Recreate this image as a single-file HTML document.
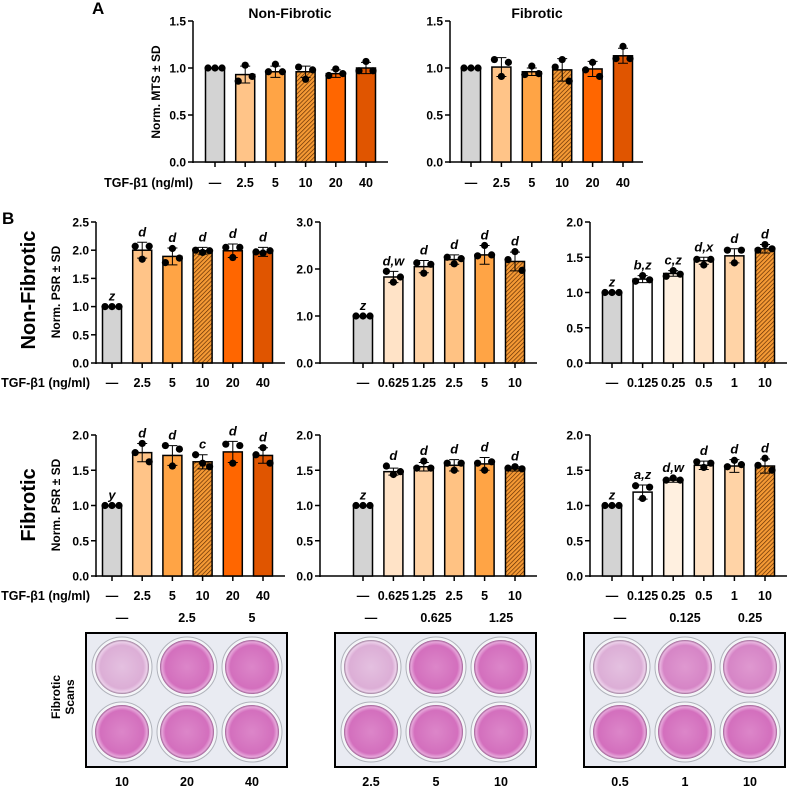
<!DOCTYPE html>
<html><head><meta charset="utf-8"><style>
html,body{margin:0;padding:0;background:#fff;}
svg{display:block;font-family:"Liberation Sans",Arial,sans-serif;font-weight:bold;}
</style></head><body>
<svg id="fig" width="787" height="788" viewBox="0 0 787 788" xmlns="http://www.w3.org/2000/svg">
<defs>
<pattern id="hatch" patternUnits="userSpaceOnUse" width="3" height="3" patternTransform="rotate(45)">
<rect width="3" height="3" fill="#f59a35"/><line x1="0" y1="0" x2="0" y2="3" stroke="#5a2800" stroke-width="1.3"/>
</pattern>
<radialGradient id="wellDark"><stop offset="0" stop-color="#dc86c9"/><stop offset="0.8" stop-color="#d36fbd"/><stop offset="0.93" stop-color="#e6a6da"/><stop offset="1" stop-color="#9a5a90"/></radialGradient>
<radialGradient id="wellLight"><stop offset="0" stop-color="#e4c0e0"/><stop offset="0.8" stop-color="#dcaed6"/><stop offset="0.93" stop-color="#ecd0ea"/><stop offset="1" stop-color="#9a7a98"/></radialGradient>
<radialGradient id="wellMid"><stop offset="0" stop-color="#df98d0"/><stop offset="0.8" stop-color="#d685c6"/><stop offset="0.93" stop-color="#e9b6e0"/><stop offset="1" stop-color="#9a6492"/></radialGradient>
</defs>
<text x="92" y="14" font-size="17">A</text>
<text x="2" y="224" font-size="17">B</text>
<text x="290" y="18" font-size="14" text-anchor="middle">Non-Fibrotic</text>
<text x="537" y="18" font-size="14" text-anchor="middle">Fibrotic</text>
<text transform="translate(160,92) rotate(-90)" font-size="12" text-anchor="middle">Norm. MTS ± SD</text>
<text x="193" y="187" font-size="12.5" text-anchor="end">TGF-β1 (ng/ml)</text>
<text transform="translate(35,290) rotate(-90)" font-size="20" text-anchor="middle">Non-Fibrotic</text>
<text transform="translate(35,505) rotate(-90)" font-size="20" text-anchor="middle">Fibrotic</text>
<text transform="translate(60,292) rotate(-90)" font-size="12" text-anchor="middle">Norm. PSR ± SD</text>
<text transform="translate(60,505) rotate(-90)" font-size="12" text-anchor="middle">Norm. PSR ± SD</text>
<text x="90" y="387" font-size="12.5" text-anchor="end">TGF-β1 (ng/ml)</text>
<text x="90" y="600" font-size="12.5" text-anchor="end">TGF-β1 (ng/ml)</text>
<text transform="translate(62,697) rotate(-90)" font-size="12" text-anchor="middle"><tspan x="0" dy="-2">Fibrotic</tspan><tspan x="0" dy="14">Scans</tspan></text>
<g id="charts"></g>
<g id="plates"></g>
</svg>
<script>
// ---- Chart data ----
const catA = ["—","2.5","5","10","20","40"];
const catMid = ["—","0.625","1.25","2.5","5","10"];
const catRight = ["—","0.125","0.25","0.5","1","10"];

const aNfMeans = [1.0,0.93,0.96,0.96,0.94,1.0];
const aNfSd = [0,0.09,0.06,0.06,0.04,0.06];
const aNfPts = [[1,1,1],[0.86,1.03,0.91],[0.96,1.04,0.96],[1.01,0.88,0.98],[0.92,0.99,0.94],[0.97,1.07,0.97]];

const aFMeans = [1.0,1.01,0.96,0.98,0.99,1.13];
const aFSd = [0,0.1,0.04,0.12,0.08,0.08];
const aFPts = [[1,1,1],[1.09,0.91,1.06],[0.93,1.02,0.94],[1.01,1.09,0.86],[0.98,1.06,0.91],[1.1,1.23,1.1]];

const b1lMeans = [1.0,2.0,1.89,1.99,1.99,1.97];
const b1lSd = [0,0.14,0.15,0.06,0.12,0.08];
const b1lPts = [[1,1,1],[2.07,1.84,2.07],[1.78,2.03,1.86],[2.0,1.96,1.99],[2.05,1.87,2.05],[1.97,1.95,1.99]];
const b1lLetters = ["z","d","d","d","d","d"];

const b1mMeans = [1.0,1.83,2.05,2.2,2.3,2.16];
const b1mSd = [0,0.12,0.13,0.1,0.2,0.2];
const b1mPts = [[1,1,1],[1.95,1.72,1.83],[2.13,1.91,2.1],[2.25,2.11,2.22],[2.28,2.5,2.3],[2.2,2.37,1.97]];
const b1mLetters = ["z","d,w","d","d","d","d"];

const b1rMeans = [1.0,1.19,1.27,1.45,1.52,1.62];
const b1rSd = [0,0.05,0.04,0.05,0.1,0.06];
const b1rPts = [[1,1,1],[1.16,1.24,1.18],[1.23,1.31,1.26],[1.47,1.39,1.47],[1.6,1.42,1.6],[1.6,1.68,1.62]];
const b1rLetters = ["z","b,z","c,z","d,x","d","d"];

const b2lMeans = [1.0,1.75,1.71,1.62,1.76,1.71];
const b2lSd = [0,0.13,0.14,0.1,0.15,0.11];
const b2lPts = [[1,1,1],[1.75,1.88,1.62],[1.85,1.56,1.8],[1.72,1.6,1.55],[1.87,1.6,1.85],[1.72,1.82,1.6]];
const b2lLetters = ["y","d","d","c","d","d"];

const b2mMeans = [1.0,1.48,1.55,1.57,1.59,1.52];
const b2mSd = [0,0.05,0.06,0.08,0.09,0.03];
const b2mPts = [[1,1,1],[1.56,1.44,1.48],[1.53,1.63,1.53],[1.6,1.5,1.6],[1.6,1.5,1.62],[1.53,1.55,1.52]];
const b2mLetters = ["z","d","d","d","d","d"];

const b2rMeans = [1.0,1.19,1.36,1.57,1.56,1.56];
const b2rSd = [0,0.1,0.03,0.06,0.09,0.1];
const b2rPts = [[1,1,1],[1.28,1.1,1.26],[1.36,1.39,1.36],[1.62,1.54,1.6],[1.55,1.64,1.58],[1.57,1.67,1.5]];
const b2rLetters = ["z","a,z","d,w","d","d","d"];

const tick15 = [0,0.5,1.0,1.5];
const tick25 = [0,0.5,1.0,1.5,2.0,2.5];
const tick3 = [0,1.0,2.0,3.0];
const tick2 = [0,0.5,1.0,1.5,2.0];

const colA = ["#d3d3d3","#ffc488","#ffa445","url(#hatch)","#ff6600","#e05500"];
const colMid = ["#d3d3d3","#ffe3c7","#ffd3a6","#ffc283","#ffa445","url(#hatch)"];
const colRight = ["#d3d3d3","#ffffff","#fff0e0","#ffe3c7","#ffd3a6","url(#hatch)"];

const NS="http://www.w3.org/2000/svg";
const g=document.getElementById('charts');
function mk(tag,attrs,parent){const e=document.createElementNS(NS,tag);for(const k in attrs)e.setAttribute(k,attrs[k]);(parent||g).appendChild(e);return e;}

function chart(name,o){
  const grp=mk('g',{});
  
  
  const yScale=v=>o.y0-(v/o.ymax)*(o.y0-o.ytop);
  const xScale=i=>o.x1+i*o.dx;
  const ax=mk('line',{x1:o.ax,y1:o.ytop,x2:o.ax,y2:o.y0+1,stroke:'#000','stroke-width':1.5},grp);
  
  
  const xa=mk('line',{x1:o.ax,y1:o.y0,x2:o.axEnd,y2:o.y0,stroke:'#000','stroke-width':1.5},grp);
  
  
  o.ticks.forEach(t=>{
    const y=yScale(t);
    mk('line',{x1:o.ax-5,y1:y,x2:o.ax,y2:y,stroke:'#000','stroke-width':1.5},grp);
    const tl=mk('text',{x:o.ax-7,y:y+4.5,'font-size':12,'text-anchor':'end'},grp);
    tl.textContent=t.toFixed(1);
    
    
  });
  o.means.forEach((m,i)=>{
    const cx=xScale(i), y=yScale(m);
    mk('line',{x1:cx,y1:o.y0,x2:cx,y2:o.y0+5,stroke:'#000','stroke-width':1.5},grp);
    const bar=mk('rect',{x:cx-9.5,y:y,width:19,height:o.y0-y,fill:o.colors[i],stroke:'#000','stroke-width':1.5},grp);
    
    
    const sd=o.sd[i];
    if(sd>0){
      const yh=yScale(m+sd), yl=yScale(m-sd);
      const eb=mk('path',{d:`M${cx},${yl}V${yh}M${cx-5},${yh}H${cx+5}M${cx-5},${yl}H${cx+5}`,stroke:'#000','stroke-width':1,fill:'none'},grp);
      
      
    }
    o.pts[i].forEach((p,j)=>{
      const c=mk('circle',{cx:cx+(j-1)*7,cy:yScale(p),r:3.6,fill:'#000'},grp);
      
      
    });
    if(o.labels){
      const tl=mk('text',{x:cx,y:o.labelY,'font-size':12.5,'text-anchor':'middle'},grp);
      tl.textContent=o.cats[i];
      
      
    }
    if(o.letters){
      const top=Math.max(m+sd,...o.pts[i]);
      const lt=mk('text',{x:cx,y:yScale(top)-6,'font-size':13,'text-anchor':'middle','font-style':'italic'},grp);
      lt.textContent=o.letters[i];
      
      
    }
  });
}
chart('chart-a-non-fibrotic',{ax:193,axEnd:388,y0:162,ytop:21,ymax:1.5,ticks:tick15,x1:215,dx:30.2,means:aNfMeans,sd:aNfSd,pts:aNfPts,colors:colA,cats:catA,labels:true,labelY:187});
chart('chart-a-fibrotic',{ax:450,axEnd:643,y0:162,ytop:21,ymax:1.5,ticks:tick15,x1:471,dx:30.4,means:aFMeans,sd:aFSd,pts:aFPts,colors:colA,cats:catA,labels:true,labelY:187});
chart('chart-b1-left',{ax:96,axEnd:285,y0:363,ytop:222,ymax:2.5,ticks:tick25,x1:112,dx:30.2,means:b1lMeans,sd:b1lSd,pts:b1lPts,colors:colA,cats:catA,labels:true,labelY:387,letters:b1lLetters});
chart('chart-b1-middle',{ax:320,axEnd:537,y0:363,ytop:222,ymax:3,ticks:tick3,x1:363,dx:30.4,means:b1mMeans,sd:b1mSd,pts:b1mPts,colors:colMid,cats:catMid,labels:true,labelY:387,letters:b1mLetters});
chart('chart-b1-right',{ax:590,axEnd:787,y0:363,ytop:222,ymax:2,ticks:tick2,x1:612,dx:30.6,means:b1rMeans,sd:b1rSd,pts:b1rPts,colors:colRight,cats:catRight,labels:true,labelY:387,letters:b1rLetters});
chart('chart-b2-left',{ax:96,axEnd:285,y0:576,ytop:435,ymax:2,ticks:tick2,x1:112,dx:30.2,means:b2lMeans,sd:b2lSd,pts:b2lPts,colors:colA,cats:catA,labels:true,labelY:600,letters:b2lLetters});
chart('chart-b2-middle',{ax:320,axEnd:537,y0:576,ytop:435,ymax:2,ticks:tick2,x1:363,dx:30.4,means:b2mMeans,sd:b2mSd,pts:b2mPts,colors:colMid,cats:catMid,labels:true,labelY:600,letters:b2mLetters});
chart('chart-b2-right',{ax:590,axEnd:787,y0:576,ytop:435,ymax:2,ticks:tick2,x1:612,dx:30.6,means:b2rMeans,sd:b2rSd,pts:b2rPts,colors:colRight,cats:catRight,labels:true,labelY:600,letters:b2rLetters});

// ---- Plates ----
const plateTop = [["—","2.5","5"],["—","0.625","1.25"],["—","0.125","0.25"]];
const plateBottom = [["10","20","40"],["2.5","5","10"],["0.5","1","10"]];
const plateX=[86,335,584];
const pg=document.getElementById('plates');
plateX.forEach((px,k)=>{
  const grp=mk('g',{},pg);
  
  
  mk('rect',{x:px,y:633,width:201,height:134,fill:'#e9ebf2',stroke:'#000','stroke-width':2},grp);
  for(let r=0;r<2;r++)for(let c=0;c<3;c++){
    const cx=px+36+c*65, cy=667+r*65;
    mk('circle',{cx:cx,cy:cy,r:30,fill:'#f4f5f8',stroke:'#b0b3bb','stroke-width':1},grp);
    const fill=(r===0&&c===0)?'url(#wellLight)':(k===2&&r===0)?'url(#wellMid)':'url(#wellDark)';
    const w=mk('circle',{cx:cx,cy:cy,r:27,fill:fill},grp);
    
    
  }
  for(let c=0;c<3;c++){
    const t=mk('text',{x:px+36+c*65,y:622,'font-size':12.5,'text-anchor':'middle'},grp);
    t.textContent=plateTop[k][c];
    
    
    const b=mk('text',{x:px+36+c*65,y:786,'font-size':12.5,'text-anchor':'middle'},grp);
    b.textContent=plateBottom[k][c];
    
    
  }
});
</script>
</body></html>
